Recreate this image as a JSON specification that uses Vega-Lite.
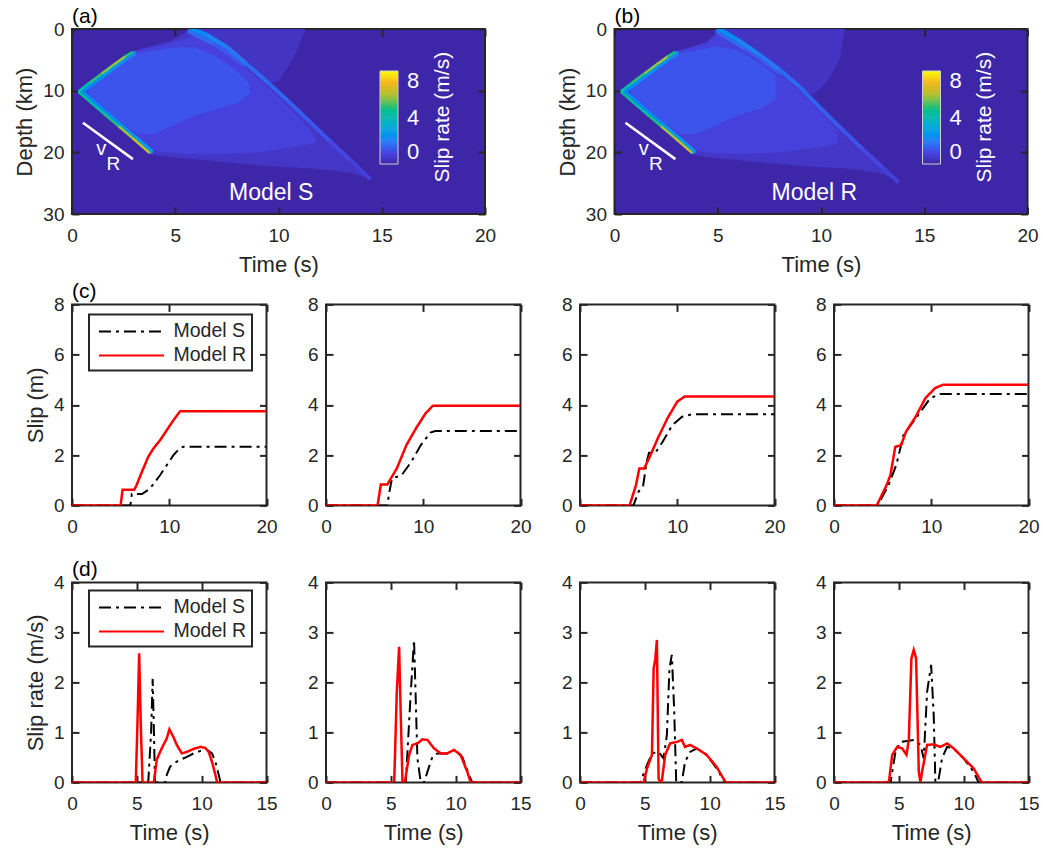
{
"$schema": "https://vega.github.io/schema/vega-lite/v6.json",
"padding": {"left": 12, "top": 5, "right": 4, "bottom": 2},
"config": {
  "font": "Liberation Sans",
  "view": {"stroke": "#262626", "strokeWidth": 2},
  "axis": {"domain": false, "grid": false, "zindex": 1, "tickSize": -7, "tickWidth": 2, "tickColor": "#262626", "labelFontSize": 19, "labelColor": "#262626", "labelPadding": 14, "labelFlush": false, "labelOverlap": false, "titleFontSize": 22, "titleFontWeight": "normal", "titleColor": "#262626", "titlePadding": 6},
  "axisX": {"labelPadding": 19, "titlePadding": 9},
  "axisY": {"labelPadding": 15, "titlePadding": 6},
  "title": {"anchor": "start", "frame": "group", "fontSize": 21, "fontWeight": "normal", "offset": -7, "color": "#000000"},
  "legend": {"strokeWidth": 2}
},
"datasets": {
"area": [
{"p":"a","r":"R0","v":0.45,"t":5.8,"a":0,"b":0},{"p":"a","r":"R0","v":0.45,"t":6.5,"a":0,"b":0.9},{"p":"a","r":"R0","v":0.45,"t":7.5,"a":0,"b":2.9},{"p":"a","r":"R0","v":0.45,"t":8.5,"a":0,"b":5.8},{"p":"a","r":"R0","v":0.45,"t":9.5,"a":0,"b":8.7},{"p":"a","r":"R0","v":0.45,"t":10.0,"a":0,"b":8.5},{"p":"a","r":"R0","v":0.45,"t":10.5,"a":0,"b":6.0},{"p":"a","r":"R0","v":0.45,"t":10.9,"a":0,"b":3.5},{"p":"a","r":"R0","v":0.45,"t":11.3,"a":0,"b":0},
{"p":"a","r":"R1","v":0.5,"t":0.3,"a":10,"b":10},{"p":"a","r":"R1","v":0.5,"t":1,"a":8,"b":12},{"p":"a","r":"R1","v":0.5,"t":2,"a":5.5,"b":14.7},{"p":"a","r":"R1","v":0.5,"t":2.9,"a":3.6,"b":17.7},{"p":"a","r":"R1","v":0.5,"t":3.8,"a":2.8,"b":20.3},{"p":"a","r":"R1","v":0.5,"t":4.8,"a":1.9,"b":20.8},{"p":"a","r":"R1","v":0.5,"t":5.8,"a":0,"b":21.1},{"p":"a","r":"R1","v":0.5,"t":6.5,"a":0.9,"b":21.3},{"p":"a","r":"R1","v":0.5,"t":7.5,"a":2.9,"b":21.6},{"p":"a","r":"R1","v":0.5,"t":8.5,"a":5.8,"b":21.9},{"p":"a","r":"R1","v":0.5,"t":9.5,"a":8.7,"b":22.2},{"p":"a","r":"R1","v":0.5,"t":10.5,"a":11.8,"b":22.4},{"p":"a","r":"R1","v":0.5,"t":11.5,"a":15,"b":22.6},{"p":"a","r":"R1","v":0.5,"t":12.5,"a":18.2,"b":22.9},{"p":"a","r":"R1","v":0.5,"t":13.5,"a":21.3,"b":23.3},{"p":"a","r":"R1","v":0.5,"t":14.4,"a":24.2,"b":24.3},
{"p":"a","r":"R2","v":0.85,"t":0.3,"a":10,"b":10},{"p":"a","r":"R2","v":0.85,"t":1,"a":8.1,"b":11.9},{"p":"a","r":"R2","v":0.85,"t":2,"a":5.7,"b":14.5},{"p":"a","r":"R2","v":0.85,"t":2.9,"a":3.8,"b":17.5},{"p":"a","r":"R2","v":0.85,"t":3.7,"a":3.1,"b":19.6},{"p":"a","r":"R2","v":0.85,"t":4.5,"a":2.5,"b":20.0},{"p":"a","r":"R2","v":0.85,"t":5.3,"a":1.8,"b":20.2},{"p":"a","r":"R2","v":0.85,"t":6.0,"a":0.9,"b":20.3},{"p":"a","r":"R2","v":0.85,"t":7.0,"a":2.6,"b":20.3},{"p":"a","r":"R2","v":0.85,"t":8.0,"a":5.0,"b":20.2},{"p":"a","r":"R2","v":0.85,"t":9.0,"a":8.0,"b":20.0},{"p":"a","r":"R2","v":0.85,"t":10.0,"a":11.0,"b":19.6},{"p":"a","r":"R2","v":0.85,"t":11.0,"a":14.3,"b":19.0},{"p":"a","r":"R2","v":0.85,"t":11.8,"a":17.5,"b":18.5},
{"p":"a","r":"R3","v":1.2,"t":0.8,"a":8.7,"b":11.3},{"p":"a","r":"R3","v":1.2,"t":1.5,"a":7.1,"b":13.0},{"p":"a","r":"R3","v":1.2,"t":2.5,"a":5.0,"b":15.5},{"p":"a","r":"R3","v":1.2,"t":3.2,"a":4.0,"b":17.0},{"p":"a","r":"R3","v":1.2,"t":4.0,"a":3.4,"b":17.0},{"p":"a","r":"R3","v":1.2,"t":5.0,"a":3.0,"b":15.5},{"p":"a","r":"R3","v":1.2,"t":6.0,"a":3.0,"b":14.0},{"p":"a","r":"R3","v":1.2,"t":7.0,"a":4.5,"b":13.0},{"p":"a","r":"R3","v":1.2,"t":8.0,"a":6.8,"b":12.0},{"p":"a","r":"R3","v":1.2,"t":8.6,"a":9.0,"b":10.5},
{"p":"b","r":"R0","v":0.45,"t":5.1,"a":0,"b":0},{"p":"b","r":"R0","v":0.45,"t":6,"a":0,"b":1.8},{"p":"b","r":"R0","v":0.45,"t":7,"a":0,"b":4.1},{"p":"b","r":"R0","v":0.45,"t":8,"a":0,"b":6.6},{"p":"b","r":"R0","v":0.45,"t":9,"a":0,"b":9.5},{"p":"b","r":"R0","v":0.45,"t":9.6,"a":0,"b":10.8},{"p":"b","r":"R0","v":0.45,"t":10.3,"a":0,"b":8.5},{"p":"b","r":"R0","v":0.45,"t":10.9,"a":0,"b":5},{"p":"b","r":"R0","v":0.45,"t":11.15,"a":0,"b":0},
{"p":"b","r":"R1","v":0.5,"t":0.3,"a":10,"b":10},{"p":"b","r":"R1","v":0.5,"t":1,"a":8,"b":12},{"p":"b","r":"R1","v":0.5,"t":2,"a":5.5,"b":14.7},{"p":"b","r":"R1","v":0.5,"t":2.9,"a":3.6,"b":17.7},{"p":"b","r":"R1","v":0.5,"t":3.8,"a":2.8,"b":20.3},{"p":"b","r":"R1","v":0.5,"t":4.5,"a":2.0,"b":20.8},{"p":"b","r":"R1","v":0.5,"t":5.1,"a":0,"b":21.0},{"p":"b","r":"R1","v":0.5,"t":6,"a":1.8,"b":21.3},{"p":"b","r":"R1","v":0.5,"t":7,"a":4.1,"b":21.6},{"p":"b","r":"R1","v":0.5,"t":8,"a":6.6,"b":21.9},{"p":"b","r":"R1","v":0.5,"t":9,"a":9.5,"b":22.2},{"p":"b","r":"R1","v":0.5,"t":10,"a":12.9,"b":22.4},{"p":"b","r":"R1","v":0.5,"t":11,"a":16.2,"b":22.6},{"p":"b","r":"R1","v":0.5,"t":12,"a":19.4,"b":22.9},{"p":"b","r":"R1","v":0.5,"t":13,"a":22.5,"b":23.5},{"p":"b","r":"R1","v":0.5,"t":13.7,"a":24.6,"b":24.7},
{"p":"b","r":"R2","v":0.85,"t":0.3,"a":10,"b":10},{"p":"b","r":"R2","v":0.85,"t":1,"a":8.1,"b":11.9},{"p":"b","r":"R2","v":0.85,"t":2,"a":5.7,"b":14.5},{"p":"b","r":"R2","v":0.85,"t":2.9,"a":3.8,"b":17.5},{"p":"b","r":"R2","v":0.85,"t":3.7,"a":3.1,"b":19.6},{"p":"b","r":"R2","v":0.85,"t":4.4,"a":2.4,"b":20.0},{"p":"b","r":"R2","v":0.85,"t":5.1,"a":0.6,"b":20.2},{"p":"b","r":"R2","v":0.85,"t":6.0,"a":2.4,"b":20.3},{"p":"b","r":"R2","v":0.85,"t":7,"a":4.7,"b":20.2},{"p":"b","r":"R2","v":0.85,"t":8,"a":7.2,"b":20.0},{"p":"b","r":"R2","v":0.85,"t":9,"a":10.1,"b":19.6},{"p":"b","r":"R2","v":0.85,"t":10,"a":13.5,"b":19.2},{"p":"b","r":"R2","v":0.85,"t":10.8,"a":16.4,"b":18.6},
{"p":"b","r":"R3","v":1.2,"t":0.8,"a":8.7,"b":11.3},{"p":"b","r":"R3","v":1.2,"t":1.5,"a":7.1,"b":13.0},{"p":"b","r":"R3","v":1.2,"t":2.5,"a":5.0,"b":15.5},{"p":"b","r":"R3","v":1.2,"t":3.2,"a":4.0,"b":17.0},{"p":"b","r":"R3","v":1.2,"t":4.0,"a":3.4,"b":17.0},{"p":"b","r":"R3","v":1.2,"t":5.0,"a":2.8,"b":15.5},{"p":"b","r":"R3","v":1.2,"t":6.0,"a":3.5,"b":14.0},{"p":"b","r":"R3","v":1.2,"t":7.0,"a":5.5,"b":13.0},{"p":"b","r":"R3","v":1.2,"t":7.8,"a":7.5,"b":11.5}
],
"seg": [
{"p":"a","g":"band","v":2.2,"t":0.5,"d":10.0,"t2":1.0,"d2":8.75},{"p":"a","g":"band","v":2.4,"t":1.0,"d":8.75,"t2":1.6,"d2":7.25},{"p":"a","g":"band","v":2.5,"t":1.6,"d":7.25,"t2":2.2,"d2":5.75},{"p":"a","g":"band","v":2.5,"t":2.2,"d":5.75,"t2":2.7,"d2":4.55},{"p":"a","g":"band","v":2.1,"t":2.7,"d":4.55,"t2":3.0,"d2":4.0},
{"p":"a","g":"band","v":2.4,"t":0.5,"d":10.3,"t2":1.0,"d2":11.8},{"p":"a","g":"band","v":2.2,"t":1.0,"d":11.8,"t2":1.7,"d2":13.8},{"p":"a","g":"band","v":2.3,"t":1.7,"d":13.8,"t2":2.4,"d2":15.8},{"p":"a","g":"band","v":2.5,"t":2.4,"d":15.8,"t2":3.1,"d2":17.8},{"p":"a","g":"band","v":2.7,"t":3.1,"d":17.8,"t2":3.82,"d2":19.85},
{"p":"a","g":"band","v":1.6,"t":5.7,"d":0.4,"t2":7.0,"d2":2.5},{"p":"a","g":"band","v":1.3,"t":7.0,"d":2.5,"t2":8.3,"d2":5.6},
{"p":"a","g":"streak","v":2.3,"t":5.8,"d":0,"t2":6.5,"d2":0.9},{"p":"a","g":"streak","v":2.1,"t":6.5,"d":0.9,"t2":7.5,"d2":2.9},{"p":"a","g":"streak","v":1.8,"t":7.5,"d":2.9,"t2":8.5,"d2":5.8},{"p":"a","g":"streak","v":1.6,"t":8.5,"d":5.8,"t2":9.5,"d2":8.7},{"p":"a","g":"streak","v":1.5,"t":9.5,"d":8.7,"t2":10.5,"d2":11.8},{"p":"a","g":"streak","v":1.35,"t":10.5,"d":11.8,"t2":11.5,"d2":15},{"p":"a","g":"streak","v":1.2,"t":11.5,"d":15,"t2":12.5,"d2":18.2},{"p":"a","g":"streak","v":1.0,"t":12.5,"d":18.2,"t2":13.5,"d2":21.3},{"p":"a","g":"streak","v":0.8,"t":13.5,"d":21.3,"t2":14.4,"d2":24.2},
{"p":"a","g":"edge","v":4.2,"t":0.35,"d":10,"t2":0.9,"d2":8.6},{"p":"a","g":"edge","v":5.0,"t":0.9,"d":8.6,"t2":1.5,"d2":7.1},{"p":"a","g":"edge","v":5.6,"t":1.5,"d":7.1,"t2":2.1,"d2":5.6},{"p":"a","g":"edge","v":5.8,"t":2.1,"d":5.6,"t2":2.6,"d2":4.4},{"p":"a","g":"edge","v":4.8,"t":2.6,"d":4.4,"t2":2.9,"d2":3.8},
{"p":"a","g":"edge","v":4.5,"t":0.35,"d":10.3,"t2":0.9,"d2":11.9},{"p":"a","g":"edge","v":4.2,"t":0.9,"d":11.9,"t2":1.6,"d2":13.9},{"p":"a","g":"edge","v":4.8,"t":1.6,"d":13.9,"t2":2.3,"d2":15.9},{"p":"a","g":"edge","v":5.8,"t":2.3,"d":15.9,"t2":3.0,"d2":17.9},{"p":"a","g":"edge","v":6.3,"t":3.0,"d":17.9,"t2":3.72,"d2":20.0},{"p":"a","g":"edge","v":4.0,"t":0.35,"d":10,"t2":0.35,"d2":10.3},
{"p":"b","g":"band","v":2.2,"t":0.5,"d":10.0,"t2":1.0,"d2":8.75},{"p":"b","g":"band","v":2.4,"t":1.0,"d":8.75,"t2":1.6,"d2":7.25},{"p":"b","g":"band","v":2.5,"t":1.6,"d":7.25,"t2":2.2,"d2":5.75},{"p":"b","g":"band","v":2.5,"t":2.2,"d":5.75,"t2":2.7,"d2":4.55},{"p":"b","g":"band","v":2.1,"t":2.7,"d":4.55,"t2":3.0,"d2":4.0},
{"p":"b","g":"band","v":2.4,"t":0.5,"d":10.3,"t2":1.0,"d2":11.8},{"p":"b","g":"band","v":2.2,"t":1.0,"d":11.8,"t2":1.7,"d2":13.8},{"p":"b","g":"band","v":2.3,"t":1.7,"d":13.8,"t2":2.4,"d2":15.8},{"p":"b","g":"band","v":2.5,"t":2.4,"d":15.8,"t2":3.1,"d2":17.8},{"p":"b","g":"band","v":2.7,"t":3.1,"d":17.8,"t2":3.82,"d2":19.85},
{"p":"b","g":"band","v":1.6,"t":5.0,"d":0.4,"t2":6.4,"d2":3.2},{"p":"b","g":"band","v":1.3,"t":6.4,"d":3.2,"t2":8.0,"d2":7.0},
{"p":"b","g":"streak","v":2.3,"t":5.1,"d":0,"t2":6,"d2":1.8},{"p":"b","g":"streak","v":2.1,"t":6,"d":1.8,"t2":7,"d2":4.1},{"p":"b","g":"streak","v":1.8,"t":7,"d":4.1,"t2":8,"d2":6.6},{"p":"b","g":"streak","v":1.6,"t":8,"d":6.6,"t2":9,"d2":9.5},{"p":"b","g":"streak","v":1.5,"t":9,"d":9.5,"t2":10,"d2":12.9},{"p":"b","g":"streak","v":1.35,"t":10,"d":12.9,"t2":11,"d2":16.2},{"p":"b","g":"streak","v":1.2,"t":11,"d":16.2,"t2":12,"d2":19.4},{"p":"b","g":"streak","v":1.0,"t":12,"d":19.4,"t2":13,"d2":22.5},{"p":"b","g":"streak","v":0.8,"t":13,"d":22.5,"t2":13.7,"d2":24.7},
{"p":"b","g":"edge","v":4.2,"t":0.35,"d":10,"t2":0.9,"d2":8.6},{"p":"b","g":"edge","v":5.0,"t":0.9,"d":8.6,"t2":1.5,"d2":7.1},{"p":"b","g":"edge","v":5.6,"t":1.5,"d":7.1,"t2":2.1,"d2":5.6},{"p":"b","g":"edge","v":5.8,"t":2.1,"d":5.6,"t2":2.6,"d2":4.4},{"p":"b","g":"edge","v":4.8,"t":2.6,"d":4.4,"t2":2.9,"d2":3.8},
{"p":"b","g":"edge","v":4.5,"t":0.35,"d":10.3,"t2":0.9,"d2":11.9},{"p":"b","g":"edge","v":4.2,"t":0.9,"d":11.9,"t2":1.6,"d2":13.9},{"p":"b","g":"edge","v":4.8,"t":1.6,"d":13.9,"t2":2.3,"d2":15.9},{"p":"b","g":"edge","v":5.8,"t":2.3,"d":15.9,"t2":3.0,"d2":17.9},{"p":"b","g":"edge","v":6.3,"t":3.0,"d":17.9,"t2":3.72,"d2":20.0},{"p":"b","g":"edge","v":4.0,"t":0.35,"d":10,"t2":0.35,"d2":10.3}
],
"slip": [
{"p":1,"m":"Model S","t":0,"s":0},{"p":1,"m":"Model S","t":6.0,"s":0},{"p":1,"m":"Model S","t":6.15,"s":0.45},{"p":1,"m":"Model S","t":7.2,"s":0.45},{"p":1,"m":"Model S","t":8.0,"s":0.66},{"p":1,"m":"Model S","t":9.05,"s":1.2},{"p":1,"m":"Model S","t":9.74,"s":1.6},{"p":1,"m":"Model S","t":10.43,"s":2.0},{"p":1,"m":"Model S","t":11.12,"s":2.29},{"p":1,"m":"Model S","t":11.47,"s":2.33},{"p":1,"m":"Model S","t":20,"s":2.33},
{"p":1,"m":"Model R","t":0,"s":0},{"p":1,"m":"Model R","t":5.0,"s":0},{"p":1,"m":"Model R","t":5.2,"s":0.62},{"p":1,"m":"Model R","t":6.4,"s":0.62},{"p":1,"m":"Model R","t":6.63,"s":0.8},{"p":1,"m":"Model R","t":7.32,"s":1.46},{"p":1,"m":"Model R","t":7.84,"s":1.93},{"p":1,"m":"Model R","t":8.36,"s":2.26},{"p":1,"m":"Model R","t":9.05,"s":2.59},{"p":1,"m":"Model R","t":9.74,"s":2.99},{"p":1,"m":"Model R","t":10.43,"s":3.39},{"p":1,"m":"Model R","t":11.12,"s":3.75},{"p":1,"m":"Model R","t":20,"s":3.75},
{"p":2,"m":"Model S","t":0,"s":0},{"p":2,"m":"Model S","t":6.3,"s":0},{"p":2,"m":"Model S","t":6.5,"s":0.5},{"p":2,"m":"Model S","t":6.78,"s":1.07},{"p":2,"m":"Model S","t":7.77,"s":1.2},{"p":2,"m":"Model S","t":8.76,"s":1.73},{"p":2,"m":"Model S","t":9.75,"s":2.4},{"p":2,"m":"Model S","t":10.74,"s":2.9},{"p":2,"m":"Model S","t":11.24,"s":2.96},{"p":2,"m":"Model S","t":20,"s":2.96},
{"p":2,"m":"Model R","t":0,"s":0},{"p":2,"m":"Model R","t":5.3,"s":0},{"p":2,"m":"Model R","t":5.64,"s":0.83},{"p":2,"m":"Model R","t":6.3,"s":0.83},{"p":2,"m":"Model R","t":7.28,"s":1.47},{"p":2,"m":"Model R","t":8.27,"s":2.4},{"p":2,"m":"Model R","t":9.26,"s":3.07},{"p":2,"m":"Model R","t":10.25,"s":3.67},{"p":2,"m":"Model R","t":11.0,"s":3.97},{"p":2,"m":"Model R","t":20,"s":3.97},
{"p":3,"m":"Model S","t":0,"s":0},{"p":3,"m":"Model S","t":5.5,"s":0},{"p":3,"m":"Model S","t":6.0,"s":0.53},{"p":3,"m":"Model S","t":6.5,"s":0.8},{"p":3,"m":"Model S","t":6.85,"s":1.73},{"p":3,"m":"Model S","t":7.1,"s":2.1},{"p":3,"m":"Model S","t":7.75,"s":2.1},{"p":3,"m":"Model S","t":8.5,"s":2.53},{"p":3,"m":"Model S","t":9.5,"s":3.2},{"p":3,"m":"Model S","t":10.5,"s":3.53},{"p":3,"m":"Model S","t":11.5,"s":3.63},{"p":3,"m":"Model S","t":20,"s":3.63},
{"p":3,"m":"Model R","t":0,"s":0},{"p":3,"m":"Model R","t":5.1,"s":0},{"p":3,"m":"Model R","t":5.75,"s":0.8},{"p":3,"m":"Model R","t":6.1,"s":1.47},{"p":3,"m":"Model R","t":6.6,"s":1.47},{"p":3,"m":"Model R","t":7.25,"s":2.0},{"p":3,"m":"Model R","t":8.0,"s":2.67},{"p":3,"m":"Model R","t":9.0,"s":3.47},{"p":3,"m":"Model R","t":10.0,"s":4.13},{"p":3,"m":"Model R","t":10.75,"s":4.33},{"p":3,"m":"Model R","t":20,"s":4.33},
{"p":4,"m":"Model S","t":0,"s":0},{"p":4,"m":"Model S","t":4.5,"s":0},{"p":4,"m":"Model S","t":5.6,"s":0.8},{"p":4,"m":"Model S","t":6.4,"s":1.6},{"p":4,"m":"Model S","t":7.15,"s":2.8},{"p":4,"m":"Model S","t":7.9,"s":3.2},{"p":4,"m":"Model S","t":8.9,"s":3.73},{"p":4,"m":"Model S","t":9.9,"s":4.27},{"p":4,"m":"Model S","t":10.9,"s":4.43},{"p":4,"m":"Model S","t":20,"s":4.43},
{"p":4,"m":"Model R","t":0,"s":0},{"p":4,"m":"Model R","t":4.4,"s":0},{"p":4,"m":"Model R","t":5.4,"s":0.8},{"p":4,"m":"Model R","t":5.8,"s":1.2},{"p":4,"m":"Model R","t":6.3,"s":2.33},{"p":4,"m":"Model R","t":6.9,"s":2.4},{"p":4,"m":"Model R","t":7.4,"s":2.93},{"p":4,"m":"Model R","t":8.4,"s":3.53},{"p":4,"m":"Model R","t":9.4,"s":4.27},{"p":4,"m":"Model R","t":10.4,"s":4.67},{"p":4,"m":"Model R","t":11.2,"s":4.8},{"p":4,"m":"Model R","t":20,"s":4.8}
],
"rate": [
{"p":1,"m":"Model S","t":0,"r":0},{"p":1,"m":"Model S","t":5.88,"r":0},{"p":1,"m":"Model S","t":6.1,"r":1.0},{"p":1,"m":"Model S","t":6.22,"r":2.07},{"p":1,"m":"Model S","t":6.32,"r":1.0},{"p":1,"m":"Model S","t":6.4,"r":0},{"p":1,"m":"Model S","t":7.18,"r":0},{"p":1,"m":"Model S","t":7.31,"r":0.15},{"p":1,"m":"Model S","t":7.56,"r":0.31},{"p":1,"m":"Model S","t":7.82,"r":0.38},{"p":1,"m":"Model S","t":8.34,"r":0.45},{"p":1,"m":"Model S","t":8.86,"r":0.51},{"p":1,"m":"Model S","t":9.38,"r":0.58},{"p":1,"m":"Model S","t":9.9,"r":0.63},{"p":1,"m":"Model S","t":10.41,"r":0.65},{"p":1,"m":"Model S","t":10.8,"r":0.58},{"p":1,"m":"Model S","t":11.06,"r":0.41},{"p":1,"m":"Model S","t":11.32,"r":0.15},{"p":1,"m":"Model S","t":11.45,"r":0},{"p":1,"m":"Model S","t":15,"r":0},
{"p":1,"m":"Model R","t":0,"r":0},{"p":1,"m":"Model R","t":4.92,"r":0},{"p":1,"m":"Model R","t":5.05,"r":1.2},{"p":1,"m":"Model R","t":5.18,"r":2.58},{"p":1,"m":"Model R","t":5.3,"r":1.2},{"p":1,"m":"Model R","t":5.44,"r":0},{"p":1,"m":"Model R","t":6.32,"r":0},{"p":1,"m":"Model R","t":6.53,"r":0.45},{"p":1,"m":"Model R","t":6.79,"r":0.61},{"p":1,"m":"Model R","t":7.05,"r":0.75},{"p":1,"m":"Model R","t":7.31,"r":0.88},{"p":1,"m":"Model R","t":7.51,"r":1.06},{"p":1,"m":"Model R","t":7.82,"r":0.91},{"p":1,"m":"Model R","t":8.08,"r":0.75},{"p":1,"m":"Model R","t":8.47,"r":0.58},{"p":1,"m":"Model R","t":8.86,"r":0.61},{"p":1,"m":"Model R","t":9.38,"r":0.67},{"p":1,"m":"Model R","t":9.9,"r":0.71},{"p":1,"m":"Model R","t":10.28,"r":0.69},{"p":1,"m":"Model R","t":10.54,"r":0.61},{"p":1,"m":"Model R","t":10.8,"r":0.41},{"p":1,"m":"Model R","t":11.06,"r":0.15},{"p":1,"m":"Model R","t":11.19,"r":0},{"p":1,"m":"Model R","t":15,"r":0},
{"p":2,"m":"Model S","t":0,"r":0},{"p":2,"m":"Model S","t":6.15,"r":0},{"p":2,"m":"Model S","t":6.54,"r":1.81},{"p":2,"m":"Model S","t":6.79,"r":2.85},{"p":2,"m":"Model S","t":7.05,"r":0.48},{"p":2,"m":"Model S","t":7.31,"r":0},{"p":2,"m":"Model S","t":7.56,"r":0},{"p":2,"m":"Model S","t":7.82,"r":0.21},{"p":2,"m":"Model S","t":8.2,"r":0.51},{"p":2,"m":"Model S","t":8.59,"r":0.58},{"p":2,"m":"Model S","t":9.36,"r":0.58},{"p":2,"m":"Model S","t":9.87,"r":0.65},{"p":2,"m":"Model S","t":10.51,"r":0.51},{"p":2,"m":"Model S","t":11.03,"r":0.15},{"p":2,"m":"Model S","t":11.28,"r":0},{"p":2,"m":"Model S","t":15,"r":0},
{"p":2,"m":"Model R","t":0,"r":0},{"p":2,"m":"Model R","t":5.26,"r":0},{"p":2,"m":"Model R","t":5.46,"r":1.81},{"p":2,"m":"Model R","t":5.64,"r":2.71},{"p":2,"m":"Model R","t":5.75,"r":1.5},{"p":2,"m":"Model R","t":5.9,"r":0},{"p":2,"m":"Model R","t":6.08,"r":0},{"p":2,"m":"Model R","t":6.41,"r":0.55},{"p":2,"m":"Model R","t":6.67,"r":0.75},{"p":2,"m":"Model R","t":7.05,"r":0.78},{"p":2,"m":"Model R","t":7.44,"r":0.86},{"p":2,"m":"Model R","t":7.82,"r":0.85},{"p":2,"m":"Model R","t":8.33,"r":0.68},{"p":2,"m":"Model R","t":8.85,"r":0.58},{"p":2,"m":"Model R","t":9.36,"r":0.58},{"p":2,"m":"Model R","t":9.87,"r":0.65},{"p":2,"m":"Model R","t":10.38,"r":0.55},{"p":2,"m":"Model R","t":10.9,"r":0.21},{"p":2,"m":"Model R","t":11.15,"r":0},{"p":2,"m":"Model R","t":15,"r":0},
{"p":3,"m":"Model S","t":0,"r":0},{"p":3,"m":"Model S","t":4.65,"r":0},{"p":3,"m":"Model S","t":5.17,"r":0.35},{"p":3,"m":"Model S","t":5.55,"r":0.58},{"p":3,"m":"Model S","t":6.06,"r":0.61},{"p":3,"m":"Model S","t":6.44,"r":0.48},{"p":3,"m":"Model S","t":6.7,"r":0.95},{"p":3,"m":"Model S","t":6.9,"r":2.28},{"p":3,"m":"Model S","t":7.08,"r":2.55},{"p":3,"m":"Model S","t":7.26,"r":1.48},{"p":3,"m":"Model S","t":7.42,"r":0},{"p":3,"m":"Model S","t":7.85,"r":0},{"p":3,"m":"Model S","t":8.1,"r":0.41},{"p":3,"m":"Model S","t":8.49,"r":0.61},{"p":3,"m":"Model S","t":9.0,"r":0.68},{"p":3,"m":"Model S","t":9.77,"r":0.55},{"p":3,"m":"Model S","t":10.54,"r":0.28},{"p":3,"m":"Model S","t":11.18,"r":0},{"p":3,"m":"Model S","t":15,"r":0},
{"p":3,"m":"Model R","t":0,"r":0},{"p":3,"m":"Model R","t":4.91,"r":0},{"p":3,"m":"Model R","t":5.17,"r":0.28},{"p":3,"m":"Model R","t":5.55,"r":0.55},{"p":3,"m":"Model R","t":5.68,"r":2.28},{"p":3,"m":"Model R","t":5.8,"r":2.45},{"p":3,"m":"Model R","t":5.93,"r":2.85},{"p":3,"m":"Model R","t":6.06,"r":0.08},{"p":3,"m":"Model R","t":6.19,"r":0},{"p":3,"m":"Model R","t":6.3,"r":0},{"p":3,"m":"Model R","t":6.57,"r":0.55},{"p":3,"m":"Model R","t":6.95,"r":0.78},{"p":3,"m":"Model R","t":7.47,"r":0.81},{"p":3,"m":"Model R","t":7.85,"r":0.85},{"p":3,"m":"Model R","t":8.1,"r":0.71},{"p":3,"m":"Model R","t":8.49,"r":0.75},{"p":3,"m":"Model R","t":9.0,"r":0.68},{"p":3,"m":"Model R","t":9.77,"r":0.55},{"p":3,"m":"Model R","t":10.54,"r":0.31},{"p":3,"m":"Model R","t":11.05,"r":0.08},{"p":3,"m":"Model R","t":11.25,"r":0},{"p":3,"m":"Model R","t":15,"r":0},
{"p":4,"m":"Model S","t":0,"r":0},{"p":4,"m":"Model S","t":4.36,"r":0},{"p":4,"m":"Model S","t":4.74,"r":0.61},{"p":4,"m":"Model S","t":5.13,"r":0.81},{"p":4,"m":"Model S","t":5.64,"r":0.83},{"p":4,"m":"Model S","t":6.15,"r":0.85},{"p":4,"m":"Model S","t":6.67,"r":0.75},{"p":4,"m":"Model S","t":6.92,"r":0.48},{"p":4,"m":"Model S","t":7.18,"r":1.81},{"p":4,"m":"Model S","t":7.49,"r":2.35},{"p":4,"m":"Model S","t":7.69,"r":1.35},{"p":4,"m":"Model S","t":7.82,"r":0},{"p":4,"m":"Model S","t":8.08,"r":0.08},{"p":4,"m":"Model S","t":8.33,"r":0.48},{"p":4,"m":"Model S","t":8.72,"r":0.71},{"p":4,"m":"Model S","t":9.23,"r":0.68},{"p":4,"m":"Model S","t":10.0,"r":0.48},{"p":4,"m":"Model S","t":10.77,"r":0.21},{"p":4,"m":"Model S","t":11.15,"r":0},{"p":4,"m":"Model S","t":15,"r":0},
{"p":4,"m":"Model R","t":0,"r":0},{"p":4,"m":"Model R","t":4.23,"r":0},{"p":4,"m":"Model R","t":4.49,"r":0.55},{"p":4,"m":"Model R","t":4.87,"r":0.71},{"p":4,"m":"Model R","t":5.26,"r":0.68},{"p":4,"m":"Model R","t":5.59,"r":0.55},{"p":4,"m":"Model R","t":5.77,"r":0.85},{"p":4,"m":"Model R","t":5.97,"r":2.48},{"p":4,"m":"Model R","t":6.15,"r":2.65},{"p":4,"m":"Model R","t":6.33,"r":2.48},{"p":4,"m":"Model R","t":6.54,"r":0.21},{"p":4,"m":"Model R","t":6.67,"r":0},{"p":4,"m":"Model R","t":6.79,"r":0.21},{"p":4,"m":"Model R","t":7.18,"r":0.75},{"p":4,"m":"Model R","t":7.69,"r":0.76},{"p":4,"m":"Model R","t":8.21,"r":0.71},{"p":4,"m":"Model R","t":8.72,"r":0.78},{"p":4,"m":"Model R","t":9.23,"r":0.68},{"p":4,"m":"Model R","t":10.0,"r":0.48},{"p":4,"m":"Model R","t":10.77,"r":0.28},{"p":4,"m":"Model R","t":11.28,"r":0.05},{"p":4,"m":"Model R","t":11.41,"r":0},{"p":4,"m":"Model R","t":15,"r":0}
]
},
"spacing": 4.4,
"resolve": {"scale": {"color": "independent", "strokeDash": "independent"}},
"vconcat": [
{"hconcat": [
 {"width": 413, "height": 185, "title": {"text": "(a)"},
  "view": {"fill": "#3e26a8", "stroke": "#262626", "strokeWidth": 2},
  "resolve": {"axis": {"x": "independent", "y": "independent"}},
  "layer": [
   {"resolve": {"scale": {"color": "independent"}},
    "layer": [
    {"data": {"name": "area"}, "transform": [{"filter": "datum.p=='a' && (datum.r=='R0' || datum.r=='R1')"}],
     "mark": {"type": "area", "clip": true},
     "encoding": {
      "x": {"field": "t", "type": "quantitative", "scale": {"domain": [0, 20], "nice": false}, "axis": {"values": [0, 5, 10, 15, 20], "title": "Time (s)"}},
      "y": {"field": "a", "type": "quantitative", "scale": {"domain": [0, 30], "reverse": true, "nice": false, "zero": false}, "axis": {"values": [0, 10, 20, 30], "title": "Depth (km)"}},
      "y2": {"field": "b"},
      "detail": {"field": "r"},
      "color": {"field": "v", "type": "quantitative", "scale": {"domain": [0,1,2,3,4,5,6,7,8], "range": ["#3e26a8","#4646e6","#2a80f5","#10a5e0","#12bab0","#30c070","#b5c030","#f5b820","#f9fb0e"]},
        "legend": {"type": "gradient", "title": null, "orient": "none", "legendX": 308, "legendY": 42, "direction": "vertical", "gradientLength": 93, "gradientThickness": 18, "values": [0, 4, 8], "labelColor": "white", "labelFontSize": 22, "labelOffset": 9, "labelBaseline": "middle", "gradientStrokeColor": "#d0d0d0", "gradientStrokeWidth": 1, "padding": 0}}
     }},
    {"data": {"name": "area"}, "transform": [{"filter": "datum.p=='a' && datum.r=='R2'"}], "mark": {"type": "area", "clip": true},
     "encoding": {"x": {"field": "t", "type": "quantitative"}, "y": {"field": "a", "type": "quantitative"}, "y2": {"field": "b"}, "color": {"field": "v", "type": "quantitative", "scale": {"domain": [0,1,2,3,4,5,6,7,8], "range": ["#3e26a8","#4646e6","#2a80f5","#10a5e0","#12bab0","#30c070","#b5c030","#f5b820","#f9fb0e"]}, "legend": null}}},
    {"data": {"name": "area"}, "transform": [{"filter": "datum.p=='a' && datum.r=='R3'"}], "mark": {"type": "area", "clip": true},
     "encoding": {"x": {"field": "t", "type": "quantitative"}, "y": {"field": "a", "type": "quantitative"}, "y2": {"field": "b"}, "color": {"field": "v", "type": "quantitative", "scale": {"domain": [0,1,2,3,4,5,6,7,8], "range": ["#3e26a8","#4646e6","#2a80f5","#10a5e0","#12bab0","#30c070","#b5c030","#f5b820","#f9fb0e"]}, "legend": null}}},
    {"data": {"name": "seg"}, "transform": [{"filter": "datum.p=='a' && datum.g=='band'"}], "mark": {"type": "rule", "strokeWidth": 5, "strokeCap": "round", "clip": true},
     "encoding": {"x": {"field": "t", "type": "quantitative"}, "y": {"field": "d", "type": "quantitative"}, "x2": {"field": "t2"}, "y2": {"field": "d2"}, "color": {"field": "v", "type": "quantitative", "scale": {"domain": [0,1,2,3,4,5,6,7,8], "range": ["#3e26a8","#4646e6","#2a80f5","#10a5e0","#12bab0","#30c070","#b5c030","#f5b820","#f9fb0e"]}, "legend": null}}},
    {"data": {"name": "seg"}, "transform": [{"filter": "datum.p=='a' && datum.g=='streak'"}], "mark": {"type": "rule", "strokeWidth": 4, "strokeCap": "round", "clip": true},
     "encoding": {"x": {"field": "t", "type": "quantitative"}, "y": {"field": "d", "type": "quantitative"}, "x2": {"field": "t2"}, "y2": {"field": "d2"}, "color": {"field": "v", "type": "quantitative", "scale": {"domain": [0,1,2,3,4,5,6,7,8], "range": ["#3e26a8","#4646e6","#2a80f5","#10a5e0","#12bab0","#30c070","#b5c030","#f5b820","#f9fb0e"]}, "legend": null}}},
    {"data": {"name": "seg"}, "transform": [{"filter": "datum.p=='a' && datum.g=='edge'"}], "mark": {"type": "rule", "strokeWidth": 2.5, "strokeCap": "round", "clip": true},
     "encoding": {"x": {"field": "t", "type": "quantitative"}, "y": {"field": "d", "type": "quantitative"}, "x2": {"field": "t2"}, "y2": {"field": "d2"}, "color": {"field": "v", "type": "quantitative", "scale": {"domain": [0,1,2,3,4,5,6,7,8], "range": ["#3e26a8","#4646e6","#2a80f5","#10a5e0","#12bab0","#30c070","#b5c030","#f5b820","#f9fb0e"]}, "legend": null}}},
    {"data": {"values": [{}]}, "mark": {"type": "rule", "color": "white", "strokeWidth": 2.5},
     "encoding": {"x": {"datum": 0.53}, "y": {"datum": 15.2}, "x2": {"datum": 2.95}, "y2": {"datum": 21.1}}},
    {"data": {"values": [{}]}, "mark": {"type": "text", "color": "white", "fontSize": 20, "baseline": "middle", "align": "center"},
     "encoding": {"x": {"datum": 1.42}, "y": {"datum": 19.4}, "text": {"value": "v"}}},
    {"data": {"values": [{}]}, "mark": {"type": "text", "color": "white", "fontSize": 19, "baseline": "middle", "align": "center"},
     "encoding": {"x": {"datum": 2.0}, "y": {"datum": 21.9}, "text": {"value": "R"}}},
    {"data": {"values": [{}]}, "mark": {"type": "text", "color": "white", "fontSize": 23, "baseline": "middle", "align": "center"},
     "encoding": {"x": {"datum": 9.65}, "y": {"datum": 26.6}, "text": {"value": "Model S"}}},
    {"data": {"values": [{}]}, "mark": {"type": "text", "color": "white", "fontSize": 21, "baseline": "middle", "align": "center", "angle": 270},
     "encoding": {"x": {"datum": 17.95}, "y": {"datum": 14.3}, "text": {"value": "Slip rate (m/s)"}}}
   ]},
   {"data": {"name": "area"}, "transform": [{"filter": "datum.p=='a'"}], "mark": {"type": "point", "opacity": 0},
    "encoding": {"x": {"field": "t", "type": "quantitative", "axis": {"orient": "top", "labels": false, "title": null, "values": [0, 5, 10, 15, 20]}},
                 "y": {"field": "a", "type": "quantitative", "axis": {"orient": "right", "labels": false, "title": null, "values": [0, 10, 20, 30]}}}}
  ]},
 {"width": 413, "height": 185, "title": {"text": "(b)"},
  "view": {"fill": "#3e26a8", "stroke": "#262626", "strokeWidth": 2},
  "resolve": {"axis": {"x": "independent", "y": "independent"}},
  "layer": [
   {"resolve": {"scale": {"color": "independent"}},
    "layer": [
    {"data": {"name": "area"}, "transform": [{"filter": "datum.p=='b' && (datum.r=='R0' || datum.r=='R1')"}],
     "mark": {"type": "area", "clip": true},
     "encoding": {
      "x": {"field": "t", "type": "quantitative", "scale": {"domain": [0, 20], "nice": false}, "axis": {"values": [0, 5, 10, 15, 20], "title": "Time (s)"}},
      "y": {"field": "a", "type": "quantitative", "scale": {"domain": [0, 30], "reverse": true, "nice": false, "zero": false}, "axis": {"values": [0, 10, 20, 30], "title": "Depth (km)"}},
      "y2": {"field": "b"},
      "detail": {"field": "r"},
      "color": {"field": "v", "type": "quantitative", "scale": {"domain": [0,1,2,3,4,5,6,7,8], "range": ["#3e26a8","#4646e6","#2a80f5","#10a5e0","#12bab0","#30c070","#b5c030","#f5b820","#f9fb0e"]},
        "legend": {"type": "gradient", "title": null, "orient": "none", "legendX": 308, "legendY": 42, "direction": "vertical", "gradientLength": 93, "gradientThickness": 18, "values": [0, 4, 8], "labelColor": "white", "labelFontSize": 22, "labelOffset": 9, "labelBaseline": "middle", "gradientStrokeColor": "#d0d0d0", "gradientStrokeWidth": 1, "padding": 0}}
     }},
    {"data": {"name": "area"}, "transform": [{"filter": "datum.p=='b' && datum.r=='R2'"}], "mark": {"type": "area", "clip": true},
     "encoding": {"x": {"field": "t", "type": "quantitative"}, "y": {"field": "a", "type": "quantitative"}, "y2": {"field": "b"}, "color": {"field": "v", "type": "quantitative", "scale": {"domain": [0,1,2,3,4,5,6,7,8], "range": ["#3e26a8","#4646e6","#2a80f5","#10a5e0","#12bab0","#30c070","#b5c030","#f5b820","#f9fb0e"]}, "legend": null}}},
    {"data": {"name": "area"}, "transform": [{"filter": "datum.p=='b' && datum.r=='R3'"}], "mark": {"type": "area", "clip": true},
     "encoding": {"x": {"field": "t", "type": "quantitative"}, "y": {"field": "a", "type": "quantitative"}, "y2": {"field": "b"}, "color": {"field": "v", "type": "quantitative", "scale": {"domain": [0,1,2,3,4,5,6,7,8], "range": ["#3e26a8","#4646e6","#2a80f5","#10a5e0","#12bab0","#30c070","#b5c030","#f5b820","#f9fb0e"]}, "legend": null}}},
    {"data": {"name": "seg"}, "transform": [{"filter": "datum.p=='b' && datum.g=='band'"}], "mark": {"type": "rule", "strokeWidth": 5, "strokeCap": "round", "clip": true},
     "encoding": {"x": {"field": "t", "type": "quantitative"}, "y": {"field": "d", "type": "quantitative"}, "x2": {"field": "t2"}, "y2": {"field": "d2"}, "color": {"field": "v", "type": "quantitative", "scale": {"domain": [0,1,2,3,4,5,6,7,8], "range": ["#3e26a8","#4646e6","#2a80f5","#10a5e0","#12bab0","#30c070","#b5c030","#f5b820","#f9fb0e"]}, "legend": null}}},
    {"data": {"name": "seg"}, "transform": [{"filter": "datum.p=='b' && datum.g=='streak'"}], "mark": {"type": "rule", "strokeWidth": 4, "strokeCap": "round", "clip": true},
     "encoding": {"x": {"field": "t", "type": "quantitative"}, "y": {"field": "d", "type": "quantitative"}, "x2": {"field": "t2"}, "y2": {"field": "d2"}, "color": {"field": "v", "type": "quantitative", "scale": {"domain": [0,1,2,3,4,5,6,7,8], "range": ["#3e26a8","#4646e6","#2a80f5","#10a5e0","#12bab0","#30c070","#b5c030","#f5b820","#f9fb0e"]}, "legend": null}}},
    {"data": {"name": "seg"}, "transform": [{"filter": "datum.p=='b' && datum.g=='edge'"}], "mark": {"type": "rule", "strokeWidth": 2.5, "strokeCap": "round", "clip": true},
     "encoding": {"x": {"field": "t", "type": "quantitative"}, "y": {"field": "d", "type": "quantitative"}, "x2": {"field": "t2"}, "y2": {"field": "d2"}, "color": {"field": "v", "type": "quantitative", "scale": {"domain": [0,1,2,3,4,5,6,7,8], "range": ["#3e26a8","#4646e6","#2a80f5","#10a5e0","#12bab0","#30c070","#b5c030","#f5b820","#f9fb0e"]}, "legend": null}}},
    {"data": {"values": [{}]}, "mark": {"type": "rule", "color": "white", "strokeWidth": 2.5},
     "encoding": {"x": {"datum": 0.53}, "y": {"datum": 15.2}, "x2": {"datum": 2.95}, "y2": {"datum": 21.1}}},
    {"data": {"values": [{}]}, "mark": {"type": "text", "color": "white", "fontSize": 20, "baseline": "middle", "align": "center"},
     "encoding": {"x": {"datum": 1.42}, "y": {"datum": 19.4}, "text": {"value": "v"}}},
    {"data": {"values": [{}]}, "mark": {"type": "text", "color": "white", "fontSize": 19, "baseline": "middle", "align": "center"},
     "encoding": {"x": {"datum": 2.0}, "y": {"datum": 21.9}, "text": {"value": "R"}}},
    {"data": {"values": [{}]}, "mark": {"type": "text", "color": "white", "fontSize": 23, "baseline": "middle", "align": "center"},
     "encoding": {"x": {"datum": 9.68}, "y": {"datum": 26.6}, "text": {"value": "Model R"}}},
    {"data": {"values": [{}]}, "mark": {"type": "text", "color": "white", "fontSize": 21, "baseline": "middle", "align": "center", "angle": 270},
     "encoding": {"x": {"datum": 17.95}, "y": {"datum": 14.3}, "text": {"value": "Slip rate (m/s)"}}}
   ]},
   {"data": {"name": "area"}, "transform": [{"filter": "datum.p=='b'"}], "mark": {"type": "point", "opacity": 0},
    "encoding": {"x": {"field": "t", "type": "quantitative", "axis": {"orient": "top", "labels": false, "title": null, "values": [0, 5, 10, 15, 20]}},
                 "y": {"field": "a", "type": "quantitative", "axis": {"orient": "right", "labels": false, "title": null, "values": [0, 10, 20, 30]}}}}
  ]}
 ], "spacing": 129.5, "bounds": "flush", "resolve": {"scale": {"color": "independent", "strokeDash": "independent"}}},
{"concat": [
  {"width": 194.5, "height": 201, "title": {"text": "(c)"}, "resolve": {"axis": {"x": "independent", "y": "independent"}},
   "layer": [
    {"layer": [
     {"data": {"name": "slip"}, "transform": [{"filter": "datum.p==1 && datum.m=='Model S'"}], "mark": {"type": "line", "strokeWidth": 2, "clip": true},
      "encoding": {"x": {"field": "t", "type": "quantitative", "scale": {"domain": [0, 20], "nice": false}, "axis": {"values": [0, 10, 20], "title": null}},
       "y": {"field": "s", "type": "quantitative", "scale": {"domain": [0, 8], "nice": false}, "axis": {"values": [0, 2, 4, 6, 8], "title": "Slip (m)"}},
       "color": {"field": "m", "type": "nominal", "scale": {"domain": ["Model S", "Model R"], "range": ["#000000", "#ff0000"]},
         "legend": {"title": null, "orient": "none", "legendX": 17, "legendY": 10, "symbolType": "M-3,0H3", "symbolSize": 470, "symbolStrokeWidth": 2, "symbolOffset": 25.5, "labelOffset": 30, "labelFontSize": 19.5, "labelColor": "#262626", "padding": 5, "rowPadding": 2, "strokeColor": "#262626", "fillColor": "white"}},
       "strokeDash": {"field": "m", "type": "nominal", "scale": {"domain": ["Model S", "Model R"], "range": [[12, 5, 3, 5], [1, 0]]},
         "legend": {"title": null, "orient": "none", "legendX": 17, "legendY": 10, "symbolType": "M-3,0H3", "symbolSize": 470, "symbolStrokeWidth": 2, "symbolOffset": 25.5, "labelOffset": 30, "labelFontSize": 19.5, "labelColor": "#262626", "padding": 5, "rowPadding": 2, "strokeColor": "#262626", "fillColor": "white"}}}},
     {"data": {"name": "slip"}, "transform": [{"filter": "datum.p==1 && datum.m=='Model R'"}], "mark": {"type": "line", "strokeWidth": 2.5, "clip": true},
      "encoding": {"x": {"field": "t", "type": "quantitative"}, "y": {"field": "s", "type": "quantitative"}, "color": {"field": "m", "type": "nominal", "legend": null}, "strokeDash": {"field": "m", "type": "nominal", "legend": null}}}
    ]},
    {"data": {"name": "slip"}, "transform": [{"filter": "datum.p==1"}], "mark": {"type": "point", "opacity": 0},
     "encoding": {"x": {"field": "t", "type": "quantitative", "axis": {"orient": "top", "labels": false, "title": null, "values": [0, 10, 20]}},
                  "y": {"field": "s", "type": "quantitative", "axis": {"orient": "right", "labels": false, "title": null, "values": [0, 2, 4, 6, 8]}}}}
   ]},
  {"width": 194.5, "height": 201, "resolve": {"axis": {"x": "independent", "y": "independent"}},
   "layer": [
    {"layer": [
     {"data": {"name": "slip"}, "transform": [{"filter": "datum.p==2 && datum.m=='Model S'"}], "mark": {"type": "line", "strokeWidth": 2, "clip": true},
      "encoding": {"x": {"field": "t", "type": "quantitative", "scale": {"domain": [0, 20], "nice": false}, "axis": {"values": [0, 10, 20], "title": null}},
       "y": {"field": "s", "type": "quantitative", "scale": {"domain": [0, 8], "nice": false}, "axis": {"values": [0, 2, 4, 6, 8], "title": null}},
       "color": {"field": "m", "type": "nominal", "scale": {"domain": ["Model S", "Model R"], "range": ["#000000", "#ff0000"]}, "legend": null},
       "strokeDash": {"field": "m", "type": "nominal", "scale": {"domain": ["Model S", "Model R"], "range": [[12, 5, 3, 5], [1, 0]]}, "legend": null}}},
     {"data": {"name": "slip"}, "transform": [{"filter": "datum.p==2 && datum.m=='Model R'"}], "mark": {"type": "line", "strokeWidth": 2.5, "clip": true},
      "encoding": {"x": {"field": "t", "type": "quantitative"}, "y": {"field": "s", "type": "quantitative"}, "color": {"field": "m", "type": "nominal", "legend": null}, "strokeDash": {"field": "m", "type": "nominal", "legend": null}}}
    ]},
    {"data": {"name": "slip"}, "transform": [{"filter": "datum.p==2"}], "mark": {"type": "point", "opacity": 0},
     "encoding": {"x": {"field": "t", "type": "quantitative", "axis": {"orient": "top", "labels": false, "title": null, "values": [0, 10, 20]}},
                  "y": {"field": "s", "type": "quantitative", "axis": {"orient": "right", "labels": false, "title": null, "values": [0, 2, 4, 6, 8]}}}}
   ]},
  {"width": 194.5, "height": 201, "resolve": {"axis": {"x": "independent", "y": "independent"}},
   "layer": [
    {"layer": [
     {"data": {"name": "slip"}, "transform": [{"filter": "datum.p==3 && datum.m=='Model S'"}], "mark": {"type": "line", "strokeWidth": 2, "clip": true},
      "encoding": {"x": {"field": "t", "type": "quantitative", "scale": {"domain": [0, 20], "nice": false}, "axis": {"values": [0, 10, 20], "title": null}},
       "y": {"field": "s", "type": "quantitative", "scale": {"domain": [0, 8], "nice": false}, "axis": {"values": [0, 2, 4, 6, 8], "title": null}},
       "color": {"field": "m", "type": "nominal", "scale": {"domain": ["Model S", "Model R"], "range": ["#000000", "#ff0000"]}, "legend": null},
       "strokeDash": {"field": "m", "type": "nominal", "scale": {"domain": ["Model S", "Model R"], "range": [[12, 5, 3, 5], [1, 0]]}, "legend": null}}},
     {"data": {"name": "slip"}, "transform": [{"filter": "datum.p==3 && datum.m=='Model R'"}], "mark": {"type": "line", "strokeWidth": 2.5, "clip": true},
      "encoding": {"x": {"field": "t", "type": "quantitative"}, "y": {"field": "s", "type": "quantitative"}, "color": {"field": "m", "type": "nominal", "legend": null}, "strokeDash": {"field": "m", "type": "nominal", "legend": null}}}
    ]},
    {"data": {"name": "slip"}, "transform": [{"filter": "datum.p==3"}], "mark": {"type": "point", "opacity": 0},
     "encoding": {"x": {"field": "t", "type": "quantitative", "axis": {"orient": "top", "labels": false, "title": null, "values": [0, 10, 20]}},
                  "y": {"field": "s", "type": "quantitative", "axis": {"orient": "right", "labels": false, "title": null, "values": [0, 2, 4, 6, 8]}}}}
   ]},
  {"width": 194.5, "height": 201, "resolve": {"axis": {"x": "independent", "y": "independent"}},
   "layer": [
    {"layer": [
     {"data": {"name": "slip"}, "transform": [{"filter": "datum.p==4 && datum.m=='Model S'"}], "mark": {"type": "line", "strokeWidth": 2, "clip": true},
      "encoding": {"x": {"field": "t", "type": "quantitative", "scale": {"domain": [0, 20], "nice": false}, "axis": {"values": [0, 10, 20], "title": null}},
       "y": {"field": "s", "type": "quantitative", "scale": {"domain": [0, 8], "nice": false}, "axis": {"values": [0, 2, 4, 6, 8], "title": null}},
       "color": {"field": "m", "type": "nominal", "scale": {"domain": ["Model S", "Model R"], "range": ["#000000", "#ff0000"]}, "legend": null},
       "strokeDash": {"field": "m", "type": "nominal", "scale": {"domain": ["Model S", "Model R"], "range": [[12, 5, 3, 5], [1, 0]]}, "legend": null}}},
     {"data": {"name": "slip"}, "transform": [{"filter": "datum.p==4 && datum.m=='Model R'"}], "mark": {"type": "line", "strokeWidth": 2.5, "clip": true},
      "encoding": {"x": {"field": "t", "type": "quantitative"}, "y": {"field": "s", "type": "quantitative"}, "color": {"field": "m", "type": "nominal", "legend": null}, "strokeDash": {"field": "m", "type": "nominal", "legend": null}}}
    ]},
    {"data": {"name": "slip"}, "transform": [{"filter": "datum.p==4"}], "mark": {"type": "point", "opacity": 0},
     "encoding": {"x": {"field": "t", "type": "quantitative", "axis": {"orient": "top", "labels": false, "title": null, "values": [0, 10, 20]}},
                  "y": {"field": "s", "type": "quantitative", "axis": {"orient": "right", "labels": false, "title": null, "values": [0, 2, 4, 6, 8]}}}}
   ]},
  {"width": 194.5, "height": 200, "title": {"text": "(d)"}, "resolve": {"axis": {"x": "independent", "y": "independent"}},
   "layer": [
    {"layer": [
     {"data": {"name": "rate"}, "transform": [{"filter": "datum.p==1 && datum.m=='Model S'"}], "mark": {"type": "line", "strokeWidth": 2, "clip": true},
      "encoding": {"x": {"field": "t", "type": "quantitative", "scale": {"domain": [0, 15], "nice": false}, "axis": {"values": [0, 5, 10, 15], "title": "Time (s)"}},
       "y": {"field": "r", "type": "quantitative", "scale": {"domain": [0, 4], "nice": false}, "axis": {"values": [0, 1, 2, 3, 4], "title": "Slip rate (m/s)"}},
       "color": {"field": "m", "type": "nominal", "scale": {"domain": ["Model S", "Model R"], "range": ["#000000", "#ff0000"]},
         "legend": {"title": null, "orient": "none", "legendX": 17, "legendY": 8, "symbolType": "M-3,0H3", "symbolSize": 470, "symbolStrokeWidth": 2, "symbolOffset": 25.5, "labelOffset": 30, "labelFontSize": 19.5, "labelColor": "#262626", "padding": 5, "rowPadding": 2, "strokeColor": "#262626", "fillColor": "white"}},
       "strokeDash": {"field": "m", "type": "nominal", "scale": {"domain": ["Model S", "Model R"], "range": [[12, 5, 3, 5], [1, 0]]},
         "legend": {"title": null, "orient": "none", "legendX": 17, "legendY": 8, "symbolType": "M-3,0H3", "symbolSize": 470, "symbolStrokeWidth": 2, "symbolOffset": 25.5, "labelOffset": 30, "labelFontSize": 19.5, "labelColor": "#262626", "padding": 5, "rowPadding": 2, "strokeColor": "#262626", "fillColor": "white"}}}},
     {"data": {"name": "rate"}, "transform": [{"filter": "datum.p==1 && datum.m=='Model R'"}], "mark": {"type": "line", "strokeWidth": 2.5, "clip": true},
      "encoding": {"x": {"field": "t", "type": "quantitative"}, "y": {"field": "r", "type": "quantitative"}, "color": {"field": "m", "type": "nominal", "legend": null}, "strokeDash": {"field": "m", "type": "nominal", "legend": null}}}
    ]},
    {"data": {"name": "rate"}, "transform": [{"filter": "datum.p==1"}], "mark": {"type": "point", "opacity": 0},
     "encoding": {"x": {"field": "t", "type": "quantitative", "axis": {"orient": "top", "labels": false, "title": null, "values": [0, 5, 10, 15]}},
                  "y": {"field": "r", "type": "quantitative", "axis": {"orient": "right", "labels": false, "title": null, "values": [0, 1, 2, 3, 4]}}}}
   ]},
  {"width": 194.5, "height": 200, "resolve": {"axis": {"x": "independent", "y": "independent"}},
   "layer": [
    {"layer": [
     {"data": {"name": "rate"}, "transform": [{"filter": "datum.p==2 && datum.m=='Model S'"}], "mark": {"type": "line", "strokeWidth": 2, "clip": true},
      "encoding": {"x": {"field": "t", "type": "quantitative", "scale": {"domain": [0, 15], "nice": false}, "axis": {"values": [0, 5, 10, 15], "title": "Time (s)"}},
       "y": {"field": "r", "type": "quantitative", "scale": {"domain": [0, 4], "nice": false}, "axis": {"values": [0, 1, 2, 3, 4], "title": null}},
       "color": {"field": "m", "type": "nominal", "scale": {"domain": ["Model S", "Model R"], "range": ["#000000", "#ff0000"]}, "legend": null},
       "strokeDash": {"field": "m", "type": "nominal", "scale": {"domain": ["Model S", "Model R"], "range": [[12, 5, 3, 5], [1, 0]]}, "legend": null}}},
     {"data": {"name": "rate"}, "transform": [{"filter": "datum.p==2 && datum.m=='Model R'"}], "mark": {"type": "line", "strokeWidth": 2.5, "clip": true},
      "encoding": {"x": {"field": "t", "type": "quantitative"}, "y": {"field": "r", "type": "quantitative"}, "color": {"field": "m", "type": "nominal", "legend": null}, "strokeDash": {"field": "m", "type": "nominal", "legend": null}}}
    ]},
    {"data": {"name": "rate"}, "transform": [{"filter": "datum.p==2"}], "mark": {"type": "point", "opacity": 0},
     "encoding": {"x": {"field": "t", "type": "quantitative", "axis": {"orient": "top", "labels": false, "title": null, "values": [0, 5, 10, 15]}},
                  "y": {"field": "r", "type": "quantitative", "axis": {"orient": "right", "labels": false, "title": null, "values": [0, 1, 2, 3, 4]}}}}
   ]},
  {"width": 194.5, "height": 200, "resolve": {"axis": {"x": "independent", "y": "independent"}},
   "layer": [
    {"layer": [
     {"data": {"name": "rate"}, "transform": [{"filter": "datum.p==3 && datum.m=='Model S'"}], "mark": {"type": "line", "strokeWidth": 2, "clip": true},
      "encoding": {"x": {"field": "t", "type": "quantitative", "scale": {"domain": [0, 15], "nice": false}, "axis": {"values": [0, 5, 10, 15], "title": "Time (s)"}},
       "y": {"field": "r", "type": "quantitative", "scale": {"domain": [0, 4], "nice": false}, "axis": {"values": [0, 1, 2, 3, 4], "title": null}},
       "color": {"field": "m", "type": "nominal", "scale": {"domain": ["Model S", "Model R"], "range": ["#000000", "#ff0000"]}, "legend": null},
       "strokeDash": {"field": "m", "type": "nominal", "scale": {"domain": ["Model S", "Model R"], "range": [[12, 5, 3, 5], [1, 0]]}, "legend": null}}},
     {"data": {"name": "rate"}, "transform": [{"filter": "datum.p==3 && datum.m=='Model R'"}], "mark": {"type": "line", "strokeWidth": 2.5, "clip": true},
      "encoding": {"x": {"field": "t", "type": "quantitative"}, "y": {"field": "r", "type": "quantitative"}, "color": {"field": "m", "type": "nominal", "legend": null}, "strokeDash": {"field": "m", "type": "nominal", "legend": null}}}
    ]},
    {"data": {"name": "rate"}, "transform": [{"filter": "datum.p==3"}], "mark": {"type": "point", "opacity": 0},
     "encoding": {"x": {"field": "t", "type": "quantitative", "axis": {"orient": "top", "labels": false, "title": null, "values": [0, 5, 10, 15]}},
                  "y": {"field": "r", "type": "quantitative", "axis": {"orient": "right", "labels": false, "title": null, "values": [0, 1, 2, 3, 4]}}}}
   ]},
  {"width": 194.5, "height": 200, "resolve": {"axis": {"x": "independent", "y": "independent"}},
   "layer": [
    {"layer": [
     {"data": {"name": "rate"}, "transform": [{"filter": "datum.p==4 && datum.m=='Model S'"}], "mark": {"type": "line", "strokeWidth": 2, "clip": true},
      "encoding": {"x": {"field": "t", "type": "quantitative", "scale": {"domain": [0, 15], "nice": false}, "axis": {"values": [0, 5, 10, 15], "title": "Time (s)"}},
       "y": {"field": "r", "type": "quantitative", "scale": {"domain": [0, 4], "nice": false}, "axis": {"values": [0, 1, 2, 3, 4], "title": null}},
       "color": {"field": "m", "type": "nominal", "scale": {"domain": ["Model S", "Model R"], "range": ["#000000", "#ff0000"]}, "legend": null},
       "strokeDash": {"field": "m", "type": "nominal", "scale": {"domain": ["Model S", "Model R"], "range": [[12, 5, 3, 5], [1, 0]]}, "legend": null}}},
     {"data": {"name": "rate"}, "transform": [{"filter": "datum.p==4 && datum.m=='Model R'"}], "mark": {"type": "line", "strokeWidth": 2.5, "clip": true},
      "encoding": {"x": {"field": "t", "type": "quantitative"}, "y": {"field": "r", "type": "quantitative"}, "color": {"field": "m", "type": "nominal", "legend": null}, "strokeDash": {"field": "m", "type": "nominal", "legend": null}}}
    ]},
    {"data": {"name": "rate"}, "transform": [{"filter": "datum.p==4"}], "mark": {"type": "point", "opacity": 0},
     "encoding": {"x": {"field": "t", "type": "quantitative", "axis": {"orient": "top", "labels": false, "title": null, "values": [0, 5, 10, 15]}},
                  "y": {"field": "r", "type": "quantitative", "axis": {"orient": "right", "labels": false, "title": null, "values": [0, 1, 2, 3, 4]}}}}
   ]}
 ], "columns": 4, "spacing": {"row": 77, "column": 59}, "bounds": "flush", "resolve": {"scale": {"color": "independent", "strokeDash": "independent"}}}
]
}
